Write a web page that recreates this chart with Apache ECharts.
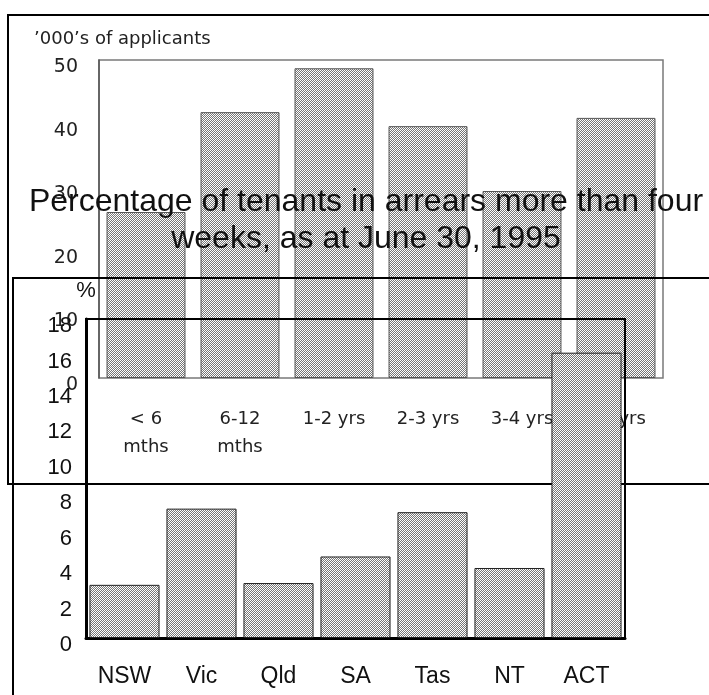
<!DOCTYPE html>
<html>
<head>
<meta charset="utf-8">
<script src="https://cdn.jsdelivr.net/npm/echarts@6/dist/echarts.min.js"></script>
<style>
  html, body { margin: 0; padding: 0; background: #fff; }
  .layer { position: absolute; left: 0; top: 0; width: 709px; height: 695px; }
</style>
</head>
<body>
<div id="back" class="layer"></div>
<div id="front" class="layer"></div>
<script>
// waiting time chart (drawn underneath)
const waitCats = ['< 6\nmths', '6-12\nmths', '1-2 yrs', '2-3 yrs', '3-4 yrs', '4+ yrs'];
const waitVals = [26.1, 41.8, 48.7, 39.6, 29.4, 40.9];
const waitMax = 50;
const waitStep = 10;

// arrears chart (drawn on top)
const stateCats = ['NSW', 'Vic', 'Qld', 'SA', 'Tas', 'NT', 'ACT'];
const arrearsVals = [3.0, 7.3, 3.1, 4.6, 7.1, 3.95, 16.1];
const arrearsMax = 18;
const arrearsStep = 2;

// dithered grey fill like the old print
function dither() {
  const c = document.createElement('canvas');
  c.width = 2; c.height = 2;
  const g = c.getContext('2d');
  g.fillStyle = '#ffffff'; g.fillRect(0, 0, 2, 2);
  g.fillStyle = '#767676';
  g.fillRect(1, 0, 1, 1);
  g.fillRect(0, 1, 1, 1);
  return {image: c, repeat: 'repeat'};
}

const back = echarts.init(document.getElementById('back'));
back.setOption({
  animation: false,
  backgroundColor: '#fff',
  title: {
    text: '\u2019000\u2019s of applicants',
    left: 34, top: 30, padding: 0,
    textStyle: {fontFamily: 'DejaVu Sans', fontSize: 18, fontWeight: 'normal', color: '#222'}
  },
  graphic: [{
    type: 'rect', z: 10,
    shape: {x: 8, y: 15, width: 760, height: 469},
    style: {fill: 'none', stroke: '#000', lineWidth: 2}
  }],
  grid: {
    left: 99, top: 60, right: 46, bottom: 317,
    show: true, borderColor: '#7a7a7a', borderWidth: 1.5
  },
  xAxis: {
    type: 'category',
    data: waitCats,
    axisLine: {show: false},
    axisTick: {show: false},
    axisLabel: {
      margin: 27, interval: 0,
      fontFamily: 'DejaVu Sans', fontSize: 18, lineHeight: 28, color: '#222'
    }
  },
  yAxis: {
    type: 'value',
    min: 0, max: waitMax, interval: waitStep,
    axisLine: {show: true, lineStyle: {color: '#555', width: 1.5}},
    axisTick: {show: false},
    splitLine: {show: false},
    axisLabel: {
      margin: 21, verticalAlign: 'top', lineHeight: 14,
      fontFamily: 'DejaVu Sans', fontSize: 19, color: '#222'
    }
  },
  series: [{
    type: 'bar',
    data: waitVals,
    barCategoryGap: '16%',
    itemStyle: {color: dither(), borderColor: '#555', borderWidth: 1}
  }]
});

const front = echarts.init(document.getElementById('front'));
front.setOption({
  animation: false,
  backgroundColor: 'transparent',
  title: {
    text: 'Percentage of tenants in arrears more than four\nweeks, as at June 30, 1995',
    left: 366, top: 184, padding: 0,
    textAlign: 'center',
    textStyle: {
      fontFamily: 'Liberation Sans', fontSize: 32, fontWeight: 'normal',
      color: '#111', lineHeight: 37
    }
  },
  graphic: [{
    type: 'rect', z: 10,
    shape: {x: 13, y: 278, width: 760, height: 460},
    style: {fill: 'none', stroke: '#000', lineWidth: 2}
  }],
  grid: {
    left: 86, top: 319, right: 84, bottom: 57,
    show: true, borderColor: '#000', borderWidth: 2
  },
  xAxis: {
    type: 'category',
    data: stateCats,
    axisLine: {show: true, lineStyle: {color: '#000', width: 3}},
    axisTick: {show: false},
    axisLabel: {
      margin: 27, interval: 0,
      fontFamily: 'Liberation Sans', fontSize: 23, color: '#111'
    }
  },
  yAxis: {
    type: 'value',
    name: '%',
    nameGap: 17,
    nameTextStyle: {fontFamily: 'Liberation Sans', fontSize: 22, color: '#111'},
    min: 0, max: arrearsMax, interval: arrearsStep,
    axisLine: {show: true, lineStyle: {color: '#000', width: 3}},
    axisTick: {show: false},
    splitLine: {show: false},
    axisLabel: {
      margin: 14, verticalAlign: 'top', lineHeight: 14,
      fontFamily: 'Liberation Sans', fontSize: 22, color: '#111'
    }
  },
  series: [{
    type: 'bar',
    data: arrearsVals,
    barCategoryGap: '9%',
    itemStyle: {color: dither(), borderColor: '#222', borderWidth: 1}
  }]
});
</script>
</body>
</html>
